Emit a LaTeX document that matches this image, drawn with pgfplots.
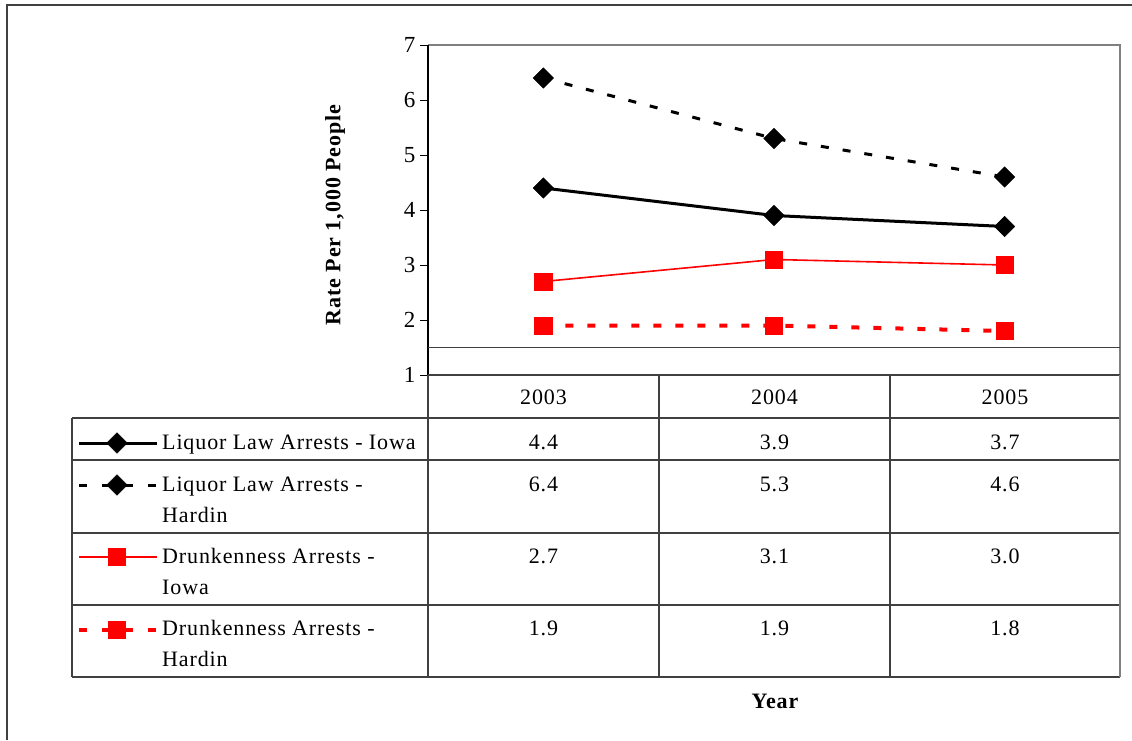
\documentclass[border=0pt]{standalone}
\usepackage{pgfplots}
\pgfplotsset{compat=1.18}
\usepackage{fontspec}
\setmainfont{Liberation Serif}[LetterSpace=4]

\definecolor{tblline}{HTML}{404040}
\definecolor{plotgray}{HTML}{808080}

\begin{document}
\begin{tikzpicture}[x=1pt,y=1pt,font=\fontsize{22}{26}\selectfont]
\path[use as bounding box] (0,0) rectangle (1132,740);
% outer chart frame
\draw[line width=1.5pt, black!75] (7,0) -- (7,735) -- (1132,735);

% main plot area
\begin{axis}[
  at={(428pt,365pt)}, anchor=south west,
  scale only axis, width=692pt, height=330pt,
  xmin=0.5, xmax=3.5, ymin=1, ymax=7,
  xtick=\empty, ytick={1,2,3,4,5,6,7},
  ytick pos=left, tick align=outside, major tick length=8pt,
  tick style={black, line width=1pt},
  axis line style={draw=none},
  clip=false,
  /pgf/number format/assume math mode=true,
  yticklabel={\fontsize{23}{26}\selectfont\pgfmathprintnumber{\tick}},
  yticklabel style={xshift=-1pt},
]
\draw[plotgray, line width=1.3pt] (rel axis cs:0,1) -- (rel axis cs:1,1) -- (rel axis cs:1,0);
\draw[black, line width=1.3pt] (rel axis cs:0,0) -- (rel axis cs:0,1);
\draw[tblline, line width=1.3pt] (rel axis cs:0,0) -- (rel axis cs:1,0);
\draw[tblline, line width=1.1pt] (axis cs:0.5,1.5) -- (axis cs:3.5,1.5);

\addplot[black, line width=3pt, mark=square*, mark size=7.2pt,
  mark options={solid, rotate=45, line width=0.5pt}]
  coordinates {(1,4.4) (2,3.9) (3,3.7)};
\addplot[black, line width=3pt, dash pattern=on 8pt off 14pt, mark=square*, mark size=7.2pt,
  mark options={solid, rotate=45, line width=0.5pt}]
  coordinates {(1,6.4) (2,5.3) (3,4.6)};
\addplot[red, line width=1.6pt, mark=square*, mark size=8.7pt,
  mark options={solid, line width=0.5pt}]
  coordinates {(1,2.7) (2,3.1) (3,3.0)};
\addplot[red, line width=4pt, dash pattern=on 8pt off 14pt, mark=square*, mark size=8.7pt,
  mark options={solid, line width=0.5pt}]
  coordinates {(1,1.9) (2,1.9) (3,1.8)};
\end{axis}

% legend keys of the data table
\begin{axis}[
  at={(72pt,63pt)}, anchor=south west,
  scale only axis, width=356pt, height=259pt,
  xmin=72, xmax=428, ymin=418, ymax=677, y dir=reverse,
  hide axis, clip=false,
]
\addplot[black, line width=3pt, mark=square*, mark size=7.2pt, mark indices={2},
  mark options={solid, rotate=45, line width=0.5pt}]
  coordinates {(79,443) (117,443) (157,443)};
\addplot[black, line width=3pt, dash pattern=on 8pt off 15pt, mark=square*, mark size=7.2pt, mark indices={2},
  mark options={solid, rotate=45, line width=0.5pt}]
  coordinates {(79,485) (117,485) (157,485)};
\addplot[red, line width=1.6pt, mark=square*, mark size=8.7pt, mark indices={2},
  mark options={solid, line width=0.5pt}]
  coordinates {(79,557) (117,557) (157,557)};
\addplot[red, line width=4pt, dash pattern=on 8pt off 15pt, mark=square*, mark size=8.7pt, mark indices={2},
  mark options={solid, line width=0.5pt}]
  coordinates {(79,630) (117,630) (157,630)};
\end{axis}

% data table grid
\begin{scope}[tblline, line width=1.3pt]
\foreach \yy in {322,280,207,135,63} \draw (72,\yy) -- (1120,\yy);
\draw (72,322) -- (72,63);
\foreach \xx in {428,659,890} \draw (\xx,365) -- (\xx,63);
\end{scope}
\draw[plotgray, line width=1.3pt] (1120,365) -- (1120,63);

% table contents
\begin{scope}[every node/.style={inner sep=0pt}]
\node[anchor=base] at (543.5,336) {2003};
\node[anchor=base] at (774.5,336) {2004};
\node[anchor=base] at (1005,336) {2005};

\node[anchor=base] at (543.5,291) {4.4};
\node[anchor=base] at (774.5,291) {3.9};
\node[anchor=base] at (1005,291) {3.7};
\node[anchor=base] at (543.5,249) {6.4};
\node[anchor=base] at (774.5,249) {5.3};
\node[anchor=base] at (1005,249) {4.6};
\node[anchor=base] at (543.5,177) {2.7};
\node[anchor=base] at (774.5,177) {3.1};
\node[anchor=base] at (1005,177) {3.0};
\node[anchor=base] at (543.5,105) {1.9};
\node[anchor=base] at (774.5,105) {1.9};
\node[anchor=base] at (1005,105) {1.8};

\node[anchor=base west] at (162,291) {Liquor Law Arrests - Iowa};
\node[anchor=base west] at (162,249) {Liquor Law Arrests -};
\node[anchor=base west] at (162,218) {Hardin};
\node[anchor=base west] at (162,177) {Drunkenness Arrests -};
\node[anchor=base west] at (162,146) {Iowa};
\node[anchor=base west] at (162,105) {Drunkenness Arrests -};
\node[anchor=base west] at (162,74) {Hardin};

\node[anchor=base, font=\fontsize{22}{26}\selectfont\bfseries] at (775,32) {Year};
\node[rotate=90, font=\fontsize{22}{26}\selectfont\bfseries] at (335,525) {Rate Per 1,000 People};
\end{scope}
\end{tikzpicture}
\end{document}
